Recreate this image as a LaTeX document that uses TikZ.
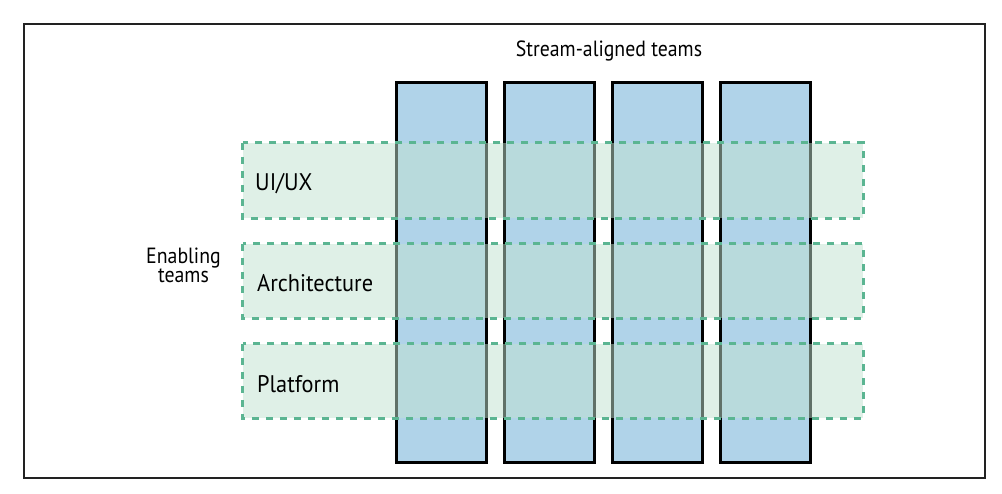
\documentclass[tikz,border=0pt]{standalone}
\usepackage{fontspec}
\setmainfont{PT Sans}
\newfontfamily\bandfont[FakeStretch=0.93]{PT Sans}
\newfontfamily\headfont[FakeStretch=0.9]{PT Sans}
\definecolor{colblue}{HTML}{B0D3E9}
\definecolor{bandgreen}{HTML}{C0E2D0}
\definecolor{dashgreen}{HTML}{5BB592}
\definecolor{framegray}{HTML}{222222}
\tikzset{
  framebox/.style={draw=framegray, line width=1.3pt, inner sep=0pt, minimum width=961pt, minimum height=454pt},
  streamcol/.style={draw=black, line width=3pt, fill=colblue, inner sep=0pt, minimum width=90pt, minimum height=379pt},
  bandfill/.style={fill=bandgreen, fill opacity=0.5, draw=none, inner sep=0pt, minimum width=620pt},
  banddash/.style={draw=dashgreen, line width=3pt, dash pattern=on 7pt off 7pt},
  lbl/.style={font=\bandfont\fontsize{24}{20}\selectfont, inner sep=0pt, text=black},
  headlbl/.style={font=\headfont\fontsize{22}{19.5}\selectfont, inner sep=0pt, text=black},
}
\begin{document}
\begin{tikzpicture}[x=1pt,y=-1pt]
\useasboundingbox (0,0) rectangle (1002,494);
\node[framebox] (frame) at (504.5,251) {};
% stream-aligned columns
\node[streamcol] (c1) at (441,272.5) {};
\node[streamcol] (c2) at (549,272.5) {};
\node[streamcol] (c3) at (657,272.5) {};
\node[streamcol] (c4) at (765,272.5) {};
% enabling bands
\node[bandfill, minimum height=75pt] (b1) at (553,180.5) {};
\node[bandfill, minimum height=74pt] (b2) at (553,281) {};
\node[bandfill, minimum height=74pt] (b3) at (553,381) {};
\draw[banddash] (b1.north west) rectangle (b1.south east);
\draw[banddash] (b2.north west) rectangle (b2.south east);
\draw[banddash] (b3.north west) rectangle (b3.south east);
% labels
\node[headlbl, anchor=base] (stream) at (609,57) {Stream-aligned teams};
\node[lbl, anchor=base west] (uiux) at (255,191) {UI/UX};
\node[lbl, anchor=base west] (arch) at (257,292) {Architecture};
\node[lbl, anchor=base west] (plat) at (257,392) {Platform};
\node[headlbl, align=center, anchor=base] (enab) at (183.5,283) {Enabling\\teams};
\end{tikzpicture}
\end{document}
